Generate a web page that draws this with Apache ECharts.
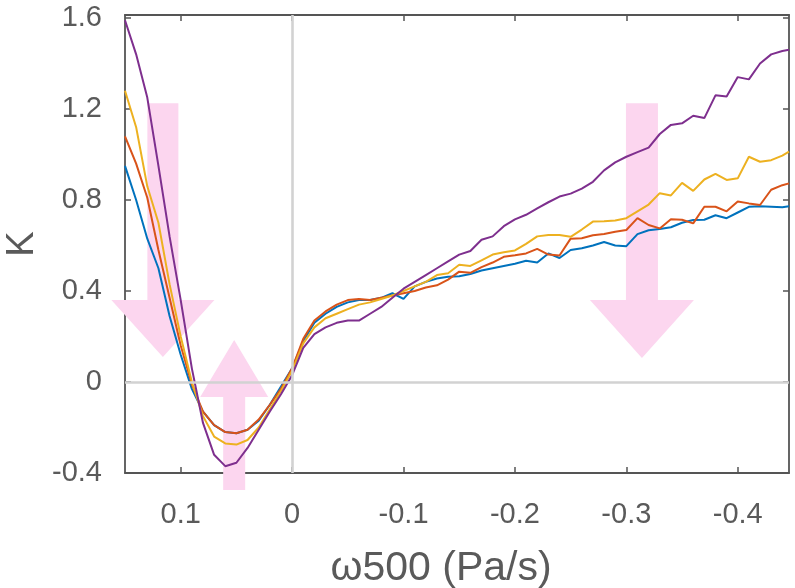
<!DOCTYPE html>
<html>
<head>
<meta charset="utf-8">
<script src="https://cdn.jsdelivr.net/npm/echarts@6/dist/echarts.min.js"></script>
<style>
  html, body { margin: 0; padding: 0; background: #ffffff; }
  #chart { width: 795px; height: 588px; }
</style>
</head>
<body>
<div id="chart"></div>
<script>
// omega500 bins (Pa/s), plotted with the x axis reversed
const omega = [
  0.15, 0.14, 0.13, 0.12, 0.11, 0.10, 0.09, 0.08, 0.07, 0.06, 0.05, 0.04, 0.03, 0.02, 0.01, 0,
  -0.01, -0.02, -0.03, -0.04, -0.05, -0.06, -0.07, -0.08, -0.09, -0.10, -0.11, -0.12, -0.13, -0.14,
  -0.15, -0.16, -0.17, -0.18, -0.19, -0.20, -0.21, -0.22, -0.23, -0.24, -0.25, -0.26, -0.27, -0.28, -0.29, -0.30,
  -0.31, -0.32, -0.33, -0.34, -0.35, -0.36, -0.37, -0.38, -0.39, -0.40, -0.41, -0.42, -0.43, -0.44, -0.446
];

// K for the four curves
const kBlue = [
  0.95, 0.80, 0.63, 0.50, 0.29, 0.12, -0.03, -0.13, -0.19, -0.22, -0.225, -0.21, -0.17, -0.10, -0.02, 0.06,
  0.18, 0.26, 0.30, 0.33, 0.35, 0.36, 0.36, 0.37, 0.39, 0.365, 0.42, 0.44, 0.455, 0.463,
  0.465, 0.475, 0.49, 0.50, 0.51, 0.52, 0.533, 0.525, 0.565, 0.545, 0.58, 0.588, 0.60, 0.615, 0.60, 0.597,
  0.65, 0.667, 0.672, 0.68, 0.70, 0.712, 0.713, 0.733, 0.72, 0.745, 0.77, 0.772, 0.77, 0.768, 0.772
];
const kOrange = [
  1.08, 0.96, 0.81, 0.58, 0.37, 0.16, -0.01, -0.13, -0.19, -0.22, -0.225, -0.21, -0.165, -0.10, -0.03, 0.06,
  0.19, 0.27, 0.31, 0.34, 0.36, 0.365, 0.36, 0.37, 0.38, 0.39, 0.40, 0.415, 0.425, 0.45,
  0.485, 0.48, 0.505, 0.525, 0.55, 0.557, 0.565, 0.585, 0.56, 0.556, 0.63, 0.632, 0.645, 0.65, 0.66, 0.668,
  0.72, 0.69, 0.675, 0.715, 0.713, 0.697, 0.77, 0.77, 0.75, 0.793, 0.785, 0.778, 0.845, 0.865, 0.873
];
const kYellow = [
  1.28, 1.12, 0.86, 0.70, 0.43, 0.20, 0.00, -0.15, -0.24, -0.27, -0.275, -0.255, -0.20, -0.12, -0.04, 0.05,
  0.17, 0.24, 0.28, 0.30, 0.32, 0.34, 0.35, 0.365, 0.38, 0.40, 0.42, 0.44, 0.47, 0.478,
  0.515, 0.51, 0.535, 0.56, 0.57, 0.578, 0.607, 0.64, 0.646, 0.646, 0.638, 0.67, 0.705, 0.706, 0.71, 0.72,
  0.75, 0.78, 0.83, 0.82, 0.875, 0.84, 0.89, 0.915, 0.888, 0.895, 0.99, 0.968, 0.975, 0.995, 1.012
];
const kPurple = [
  1.59, 1.44, 1.25, 0.95, 0.64, 0.36, 0.06, -0.18, -0.32, -0.37, -0.355, -0.29, -0.21, -0.13, -0.054, 0.03,
  0.15, 0.21, 0.24, 0.26, 0.27, 0.27, 0.30, 0.33, 0.37, 0.41, 0.44, 0.47, 0.50, 0.53,
  0.56, 0.576, 0.625, 0.64, 0.685, 0.715, 0.735, 0.763, 0.79, 0.815, 0.828, 0.85, 0.88, 0.93, 0.965, 0.99,
  1.01, 1.03, 1.09, 1.13, 1.137, 1.17, 1.16, 1.26, 1.255, 1.34, 1.33, 1.40, 1.44, 1.455, 1.46
];

// tick labels
const xTicks = [0.1, 0, -0.1, -0.2, -0.3, -0.4];
const yTicks = [-0.4, 0, 0.4, 0.8, 1.2, 1.6];

// trend arrows in data units: [omega, tail K, head-base K, tip K]
const arrows = [
  [0.116, 1.225, 0.36, 0.11],
  [0.052, -0.475, -0.066, 0.185],
  [-0.314, 1.225, 0.36, 0.105]
];
const arrowShaftHalf = [15.5, 11, 16];
const arrowHeadHalf = [51.5, 34, 52];

const colors = ['#0072BD', '#D95319', '#EDB120', '#7E2F8E'];
const textColor = '#5a5a5a';
const font = 'Liberation Sans, Arial, Helvetica, sans-serif';

function pairs(ys) { return omega.map((x, i) => [x, ys[i]]); }

const chart = echarts.init(document.getElementById('chart'), null, { renderer: 'canvas' });

const frameAxis = {
  axisLine: { show: true, onZero: false, lineStyle: { color: '#555', width: 1.8 } },
  axisTick: { show: true, inside: true, length: 6, lineStyle: { color: '#555', width: 1.5 } },
  splitLine: { show: false }
};

chart.setOption({
  animation: false,
  backgroundColor: '#ffffff',
  grid: { left: 125, right: 6, top: 15, bottom: 115, containLabel: false, outerBoundsMode: 'none' },
  xAxis: [
    Object.assign({}, frameAxis, {
      type: 'value', inverse: true, min: -0.446, max: 0.15, position: 'bottom',
      axisTick: Object.assign({}, frameAxis.axisTick, { customValues: xTicks }),
      axisLabel: { customValues: xTicks, color: textColor, fontFamily: font, fontSize: 29, margin: 27,
        formatter: v => String(v) },
      name: 'ω500 (Pa/s)', nameLocation: 'middle', nameGap: 75,
      nameTextStyle: { color: textColor, fontFamily: font, fontSize: 41, padding: [0, 32, 0, 0] }
    }),
    Object.assign({}, frameAxis, {
      type: 'value', inverse: true, min: -0.446, max: 0.15, position: 'top',
      axisTick: Object.assign({}, frameAxis.axisTick, { customValues: xTicks }),
      axisLabel: { show: false }
    })
  ],
  yAxis: [
    Object.assign({}, frameAxis, {
      type: 'value', min: -0.4, max: 1.613, position: 'left',
      axisTick: Object.assign({}, frameAxis.axisTick, { customValues: yTicks }),
      axisLabel: { customValues: yTicks, color: textColor, fontFamily: font, fontSize: 29, margin: 23,
        formatter: v => String(v) },
      name: 'K', nameLocation: 'middle', nameGap: 80, nameRotate: 90,
      nameTextStyle: { color: textColor, fontFamily: font, fontSize: 38 }
    }),
    Object.assign({}, frameAxis, {
      type: 'value', min: -0.4, max: 1.613, position: 'right',
      axisTick: Object.assign({}, frameAxis.axisTick, { customValues: yTicks }),
      axisLabel: { show: false }
    })
  ],
  series: [
    {
      type: 'custom',
      name: 'arrows',
      silent: true,
      clip: false,
      z: 1,
      data: arrows,
      encode: { x: 0, y: [1, 2, 3] },
      renderItem: function (params, api) {
        const i = params.dataIndex;
        const tail = api.coord([api.value(0), api.value(1)]);
        const base = api.coord([api.value(0), api.value(2)]);
        const tip = api.coord([api.value(0), api.value(3)]);
        const s = arrowShaftHalf[i], h = arrowHeadHalf[i], cx = tail[0];
        return {
          type: 'polygon',
          shape: { points: [
            [cx - s, tail[1]], [cx + s, tail[1]], [cx + s, base[1]], [cx + h, base[1]],
            [cx, tip[1]], [cx - h, base[1]], [cx - s, base[1]]
          ] },
          style: { fill: '#fcd6ef' }
        };
      }
    },
    {
      type: 'line',
      name: 'zero',
      silent: true,
      z: 2,
      data: [],
      markLine: {
        silent: true,
        symbol: 'none',
        label: { show: false },
        lineStyle: { color: '#d2d2d2', width: 2.6, type: 'solid' },
        data: [{ yAxis: 0 }, { xAxis: 0 }]
      }
    },
    { type: 'line', name: 'c1', data: pairs(kBlue), showSymbol: false, z: 3,
      lineStyle: { color: colors[0], width: 2 }, itemStyle: { color: colors[0] } },
    { type: 'line', name: 'c2', data: pairs(kOrange), showSymbol: false, z: 3,
      lineStyle: { color: colors[1], width: 2 }, itemStyle: { color: colors[1] } },
    { type: 'line', name: 'c3', data: pairs(kYellow), showSymbol: false, z: 3,
      lineStyle: { color: colors[2], width: 2 }, itemStyle: { color: colors[2] } },
    { type: 'line', name: 'c4', data: pairs(kPurple), showSymbol: false, z: 3,
      lineStyle: { color: colors[3], width: 2 }, itemStyle: { color: colors[3] } }
  ]
});
</script>
</body>
</html>
